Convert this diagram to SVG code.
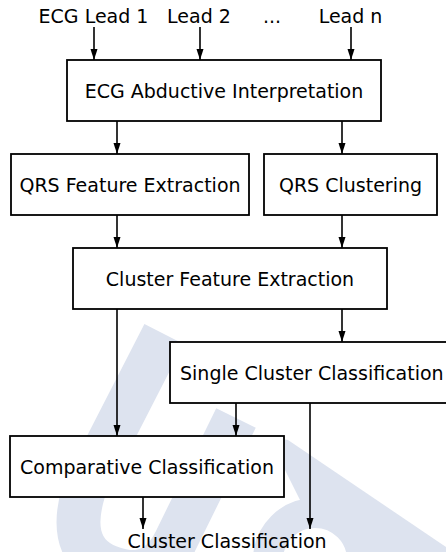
<svg xmlns="http://www.w3.org/2000/svg" width="446" height="552" viewBox="0 0 446 552">
<style>
.box{fill:#fff;stroke:#000;stroke-width:1.8}
.lbl{font-family:"DejaVu Sans",sans-serif;font-size:19px;fill:#000;text-anchor:middle}
.con{stroke:#000;stroke-width:1.6;fill:none;marker-end:url(#ah)}
.wm{fill:none;stroke:#dde3ef}
</style>
<defs>
<marker id="ah" markerUnits="userSpaceOnUse" markerWidth="11" markerHeight="8" refX="11" refY="4" orient="auto">
<path d="M0,0.5 L11,4 L0,7.5 z" fill="#000"/>
</marker>
</defs>
<rect width="446" height="552" fill="#fff"/>
<g id="watermark">
<path class="wm" stroke-width="44" d="M164,334 L84,490 Q62,562 128,572 Q160,574 176,540 L236,418"/>
<circle class="wm" cx="315" cy="560" r="47" stroke-width="30"/>
<polygon fill="#dde3ef" points="268,436 288,440 446,547 446,552 360,552 300,500"/>
</g>
<g id="connectors">
<line class="con" x1="94" y1="27" x2="94" y2="60"/>
<line class="con" x1="200" y1="27" x2="200" y2="60"/>
<line class="con" x1="351" y1="27" x2="351" y2="60"/>
<line class="con" x1="117" y1="121" x2="117" y2="154"/>
<line class="con" x1="342" y1="121" x2="342" y2="154"/>
<line class="con" x1="117" y1="215" x2="117" y2="248"/>
<line class="con" x1="342" y1="215" x2="342" y2="248"/>
<line class="con" x1="117" y1="309" x2="117" y2="436"/>
<line class="con" x1="342" y1="309" x2="342" y2="342"/>
<line class="con" x1="236" y1="403" x2="236" y2="436"/>
<line class="con" x1="310" y1="403" x2="310" y2="529"/>
<line class="con" x1="143" y1="497" x2="143" y2="529"/>
</g>
<g id="inputs">
<text class="lbl" x="93.5" y="23">ECG Lead 1</text>
<text class="lbl" x="199" y="23">Lead 2</text>
<text class="lbl" x="272" y="23">...</text>
<text class="lbl" x="350.5" y="23">Lead n</text>
</g>
<g id="abductive">
<rect class="box" x="67" y="60" width="314" height="61"/>
<text class="lbl" x="224" y="97.5">ECG Abductive Interpretation</text>
</g>
<g id="qrs-feature">
<rect class="box" x="11" y="154" width="238" height="61"/>
<text class="lbl" x="130" y="191.5">QRS Feature Extraction</text>
</g>
<g id="qrs-clustering">
<rect class="box" x="264" y="154" width="173" height="61"/>
<text class="lbl" x="350.5" y="191.5">QRS Clustering</text>
</g>
<g id="cluster-feature">
<rect class="box" x="73" y="248" width="314" height="61"/>
<text class="lbl" x="230" y="285.5">Cluster Feature Extraction</text>
</g>
<g id="single-cluster">
<rect class="box" x="170" y="342" width="290" height="61"/>
<text class="lbl" x="180" y="379.5" style="text-anchor:start">Single Cluster Classification</text>
</g>
<g id="comparative">
<rect class="box" x="10" y="436" width="274" height="61"/>
<text class="lbl" x="147" y="473.5">Comparative Classification</text>
</g>
<g id="output">
<text class="lbl" x="227" y="548">Cluster Classification</text>
</g>
</svg>
